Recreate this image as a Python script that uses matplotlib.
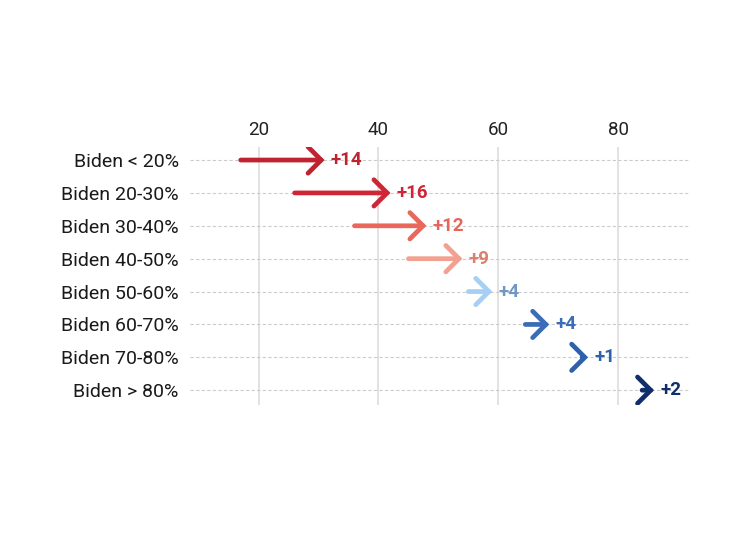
import matplotlib
matplotlib.use("Agg")
from matplotlib import pyplot as plt
from matplotlib.patches import FancyArrowPatch

# data
categories = ["Biden < 20%", "Biden 20-30%", "Biden 30-40%", "Biden 40-50%",
              "Biden 50-60%", "Biden 60-70%", "Biden 70-80%", "Biden > 80%"]
start = [17, 26, 36, 45, 55, 64.5, 74, 84]
change = [14, 16, 12, 9, 4, 4, 1, 2]
labels = ["+14", "+16", "+12", "+9", "+4", "+4", "+1", "+2"]
colors = ["#c0232f", "#cf2637", "#ea675b", "#f2a08f",
          "#a6cff5", "#3b6cb7", "#2f61ab", "#0f2e6b"]
label_colors = ["#c0232f", "#cf2637", "#e5665a", "#d9806f",
                "#7098c6", "#3b6cb7", "#2f61ab", "#0f2e6b"]
xticks = [20, 40, 60, 80]

plt.rcParams['font.family'] = ['Roboto', 'DejaVu Sans']

fig = plt.figure(figsize=(7.5, 5.4), dpi=100)
ax = fig.add_axes([0.253, 0.25, 0.667, 0.478])

for i, (s, c, lab, col, lcol) in enumerate(zip(start, change, labels, colors, label_colors)):
    e = s + c
    arr = FancyArrowPatch((s, i), (e, i),
                          arrowstyle="->,head_length=0.5,head_width=0.5",
                          mutation_scale=19, color=col, linewidth=3.4,
                          shrinkA=0, shrinkB=0, capstyle='round',
                          joinstyle='miter')
    ax.add_patch(arr)
    ax.text(e + 1.0, i, lab, color=lcol, fontsize=13.5, fontweight='semibold',
            va='center', ha='left')

ax.set_xlim(8.5, 92)
ax.set_ylim(7.45, -0.4)
ax.set_yticks(range(len(categories)))
ax.set_yticklabels(categories, fontsize=14, color="#1a1a1a")
ax.set_xticks(xticks)
ax.set_xticklabels([str(t) for t in xticks], fontsize=13.5, color="#222222")
ax.xaxis.tick_top()
ax.tick_params(length=0, pad=6)
ax.tick_params(axis='y', pad=8)

for t in xticks:
    ax.axvline(t, color="#dddddd", linewidth=1.2, zorder=0)
for i in range(len(categories)):
    ax.axhline(i, color="#cccccc", linewidth=0.8, linestyle=(0, (3, 2)), zorder=0)

for sp in ax.spines.values():
    sp.set_visible(False)

fig.savefig("out.png", dpi=100)
